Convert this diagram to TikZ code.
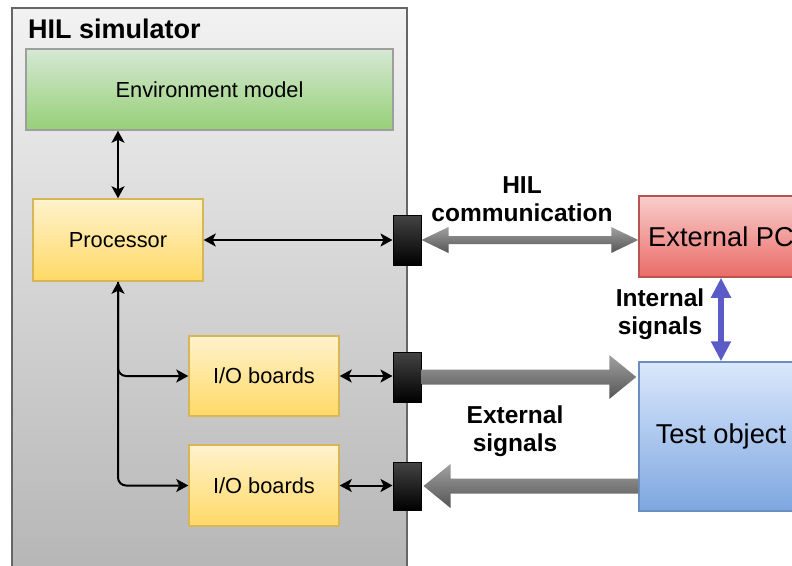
\documentclass[tikz,border=0pt]{standalone}
\usepackage{fontspec}
\setmainfont{Liberation Sans}
\usetikzlibrary{arrows.meta,calc}

\definecolor{simtop}{HTML}{F2F2F2}
\definecolor{simbot}{HTML}{B5B5B5}
\definecolor{simline}{HTML}{666666}
\definecolor{envtop}{HTML}{D5E8D4}
\definecolor{envbot}{HTML}{97D077}
\definecolor{envline}{HTML}{9E9E9E}
\definecolor{ylwtop}{HTML}{FFF2CC}
\definecolor{ylwbot}{HTML}{FFD966}
\definecolor{ylwline}{HTML}{D6B656}
\definecolor{redtop}{HTML}{F8CECC}
\definecolor{redbot}{HTML}{EA6B66}
\definecolor{redline}{HTML}{B85450}
\definecolor{blutop}{HTML}{DAE8FC}
\definecolor{blubot}{HTML}{7EA6E0}
\definecolor{bluline}{HTML}{6C8EBF}
\definecolor{portop}{HTML}{444444}
\definecolor{arrtop}{HTML}{A0A0A0}
\definecolor{arrbot}{HTML}{555555}
\definecolor{sigblue}{HTML}{5B5BC8}

\tikzset{
  wtip/.tip={Stealth[length=12pt,width=13pt,inset=3pt]},
  btip/.tip={Triangle[length=20pt,width=19pt]},
  txt/.style={font=\fontsize{21.8}{26}\selectfont},
  bigtxt/.style={font=\fontsize{27.3}{31}\selectfont},
  lbl/.style={font=\bfseries\fontsize{24.5}{27.5}\selectfont, align=center, inner sep=0},
  block/.style={line width=1.5, inner sep=0, txt},
  envbox/.style={block, draw=envline, top color=envtop, bottom color=envbot},
  ylwbox/.style={block, draw=ylwline, top color=ylwtop, bottom color=ylwbot},
  pcbox/.style={block, bigtxt, draw=redline, top color=redtop, bottom color=redbot},
  dutbox/.style={block, bigtxt, draw=bluline, top color=blutop, bottom color=blubot},
  port/.style={draw=black, line width=1, top color=portop, bottom color=black,
    minimum width=28, minimum height=50, inner sep=0},
  wire/.style={line width=2, black},
  grayarrow/.style={top color=arrtop, bottom color=arrbot},
}

\begin{document}
\begin{tikzpicture}[x=1pt,y=-1pt]
\useasboundingbox (0,0) rectangle (792,565);
\clip (0,0) rectangle (792,565);

% simulator housing
\path[draw=simline, line width=2, top color=simtop, bottom color=simbot]
  (12,8) rectangle (407,580);
\node[anchor=west, inner sep=0, font=\bfseries\fontsize{27}{30}\selectfont]
  (title) at (28,29) {HIL simulator};

% blocks inside the simulator
\node[envbox, minimum width=367, minimum height=81] (env) at (209.5,89.5) {Environment model};
\node[ylwbox, minimum width=170, minimum height=82] (proc) at (118,240) {Processor};
\node[ylwbox, minimum width=150, minimum height=80] (io1) at (264,376) {I/O boards};
\node[ylwbox, minimum width=150, minimum height=81] (io2) at (264,485.5) {I/O boards};

% connectors on the housing wall
\node[port] (p1) at (407,240) {};
\node[port] (p2) at (407,377) {};
\node[port, minimum height=48] (p3) at (407,486) {};

% external devices
\node[pcbox, minimum width=164, minimum height=81] (pc) at (721,236.5) {External PC};
\node[dutbox, minimum width=164, minimum height=149] (dut) at (721,436.5) {Test object};

% internal wiring
\draw[wire, {wtip}-{wtip}] (proc.north) -- (proc.north |- env.south);
\draw[wire, {wtip}-{wtip}] (proc.east) -- (p1.west);
\draw[wire, rounded corners=8, {wtip}-{wtip}] (proc.south) |- (io2.west);
\draw[wire, rounded corners=8, -{wtip}] (proc.south) |- (io1.west);
\draw[wire, {wtip}-{wtip}] (io1.east) -- (p2.west |- io1.east);
\draw[wire, {wtip}-{wtip}] (io2.east) -- (p3.west |- io2.east);

% HIL communication link
\coordinate (c1) at (pc.west |- p1.east);
\path[grayarrow]
  (p1.east) -- ++(27,-13) -- ++(0,9) -- ($(c1)+(-27,-4)$) -- ++(0,-9)
  -- (c1) -- ++(-27,13) -- ++(0,-9) -- ($(p1.east)+(27,4)$) -- ++(0,9) -- cycle;

% outgoing external signals
\coordinate (c2) at ($(dut.west |- p2.east)+(-2,0)$);
\path[grayarrow]
  ($(p2.east)+(0,-7.5)$) -- ($(c2)+(-27,-7.5)$) -- ++(0,-14.5) -- (c2)
  -- ++(-27,22) -- ++(0,-14.5) -- ($(p2.east)+(0,7.5)$) -- cycle;

% incoming external signals
\coordinate (c3) at ($(p3.east)+(2,0)$);
\coordinate (c4) at (dut.west |- p3.east);
\path[grayarrow]
  (c3) -- ++(27,-22) -- ++(0,14.5) -- ($(c4)+(0,-7.5)$) -- ($(c4)+(0,7.5)$)
  -- ($(c3)+(27,7.5)$) -- ++(0,14.5) -- cycle;

% internal signals between PC and test object
\draw[sigblue, line width=6, {btip}-{btip}] (pc.south) -- (dut.north);

% link labels
\node[lbl] (lhil) at (522,199) {HIL\\communication};
\node[lbl] (lint) at (660,314) {Internal\\signals};
\node[lbl] (lext) at (515,431) {External\\signals};
\end{tikzpicture}
\end{document}
